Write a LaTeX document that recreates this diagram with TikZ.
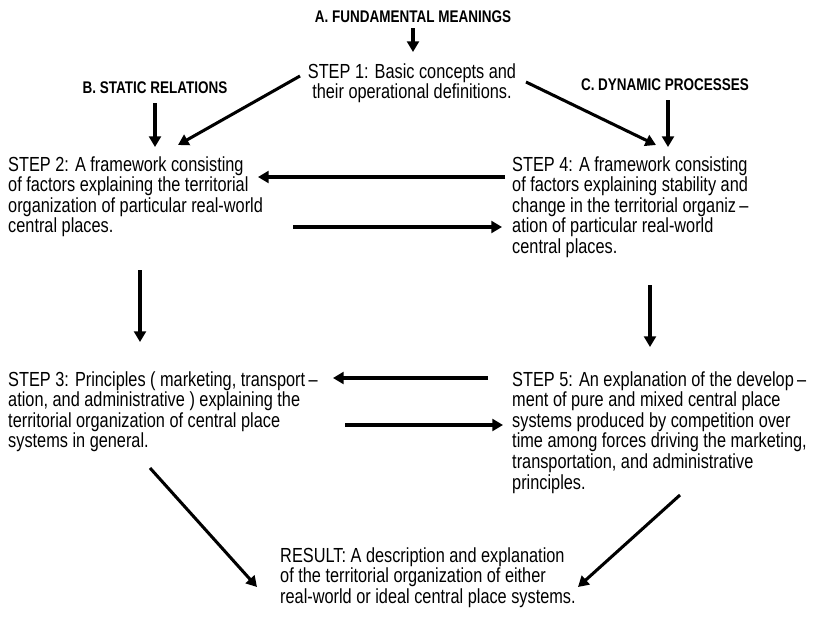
\documentclass[tikz,border=0pt]{standalone}
\usepackage{fontspec}
\setmainfont{Liberation Sans}[FakeStretch=0.8]
\usetikzlibrary{arrows.meta}
\begin{document}
\begin{tikzpicture}[x=0.03cm,y=-0.03cm,
  txt/.style={anchor=north west,align=left,inner sep=0pt,font=\fontsize{17.4}{17.6}\selectfont},
  hdr/.style={inner sep=0pt,font=\bfseries\fontsize{14.4}{14}\selectfont},
  arr/.style={line width=2.6pt,-{Triangle[length=9pt,width=10pt]}}]
\useasboundingbox (0,0) rectangle (826,642);
\node[hdr] (A) at (413,17) {A. FUNDAMENTAL MEANINGS};
\node[hdr] (B) at (155,88) {B. STATIC RELATIONS};
\node[hdr] (C) at (665,85) {C. DYNAMIC PROCESSES};
\node[txt,anchor=north,align=center] (s1) at (412,63) {STEP 1: Basic concepts and\\their operational definitions.};
\node[txt] (s2) at (8,156) {STEP 2: A framework consisting\\of factors explaining the territorial\\organization of particular real-world\\central places.};
\node[txt] (s4) at (512,156) {STEP 4: A framework consisting\\of factors explaining stability and\\change in the territorial organiz\,--\\ation of particular real-world\\central places.};
\node[txt] (s3) at (8,371) {STEP 3: Principles ( marketing, transport\,--\\ation, and administrative ) explaining the\\territorial organization of central place\\systems in general.};
\node[txt] (s5) at (512,371) {STEP 5: An explanation of the develop\,--\\ment of pure and mixed central place\\systems produced by competition over\\time among forces driving the marketing,\\transportation, and administrative\\principles.};
\node[txt] (r) at (280,547) {RESULT: A description and explanation\\of the territorial organization of either\\real-world or ideal central place systems.};
\coordinate (a1) at (413,28); \coordinate (a2) at (413,52);
\coordinate (b1) at (155,103); \coordinate (b2) at (155,147);
\coordinate (c1) at (668,100); \coordinate (c2) at (668,147);
\coordinate (d1) at (300,76); \coordinate (d2) at (178,145);
\coordinate (e1) at (526,82); \coordinate (e2) at (656,145);
\coordinate (f1) at (505,177); \coordinate (f2) at (258,177);
\coordinate (g1) at (293,227); \coordinate (g2) at (502,227);
\coordinate (h1) at (140,270); \coordinate (h2) at (140,342);
\coordinate (i1) at (650,285); \coordinate (i2) at (650,347);
\coordinate (j1) at (488,378); \coordinate (j2) at (333,378);
\coordinate (k1) at (345,425); \coordinate (k2) at (503,425);
\coordinate (l1) at (150,468); \coordinate (l2) at (257,587);
\coordinate (m1) at (680,495); \coordinate (m2) at (578,587);
\foreach \p in {a,b,c,d,e,f,g,h,i,j,k,l,m} \draw[arr] (\p1) -- (\p2);
\end{tikzpicture}
\end{document}
